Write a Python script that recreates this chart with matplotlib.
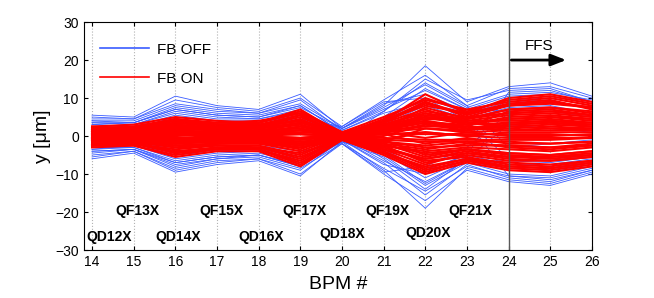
import matplotlib
matplotlib.use("Agg")
import matplotlib.pyplot as plt

plt.rcParams["font.family"] = ["Liberation Sans", "DejaVu Sans"]

# BPM index along the line
bpm = [14, 15, 16, 17, 18, 19, 20, 21, 22, 23, 24, 25, 26]

# orbit readings (um) with feedback off, one list per shot
fb_off = [
    [5.5, 5.0, 10.5, 8.0, 7.0, 11.0, 2.0, 8.0, 18.5, 9.0, 13.0, 14.0, 10.5],
    [5.0, 4.5, 9.5, 7.5, 6.5, 10.0, 2.5, 9.5, 16.0, 8.0, 12.5, 13.0, 10.0],
    [4.5, 4.5, 8.5, 7.0, 6.0, 9.5, 1.5, 6.5, 15.0, 9.5, 12.0, 12.5, 9.0],
    [4.0, 4.0, 8.0, 6.5, 6.0, 8.5, 2.0, 7.5, 13.5, 7.5, 11.0, 11.5, 9.5],
    [3.5, 3.5, 7.5, 6.0, 5.5, 8.0, 1.0, 5.0, 12.5, 7.0, 10.5, 11.0, 8.5],
    [3.0, 3.5, 7.0, 5.5, 5.0, 7.5, 2.0, 8.5, 11.0, 6.5, 9.5, 10.0, 8.0],
    [3.5, 3.0, 6.5, 5.0, 4.5, 7.0, 0.5, 4.0, 10.0, 6.0, 9.0, 9.5, 7.0],
    [2.5, 3.0, 6.0, 4.5, 4.5, 6.5, 1.5, 6.0, 9.0, 5.5, 8.0, 8.5, 7.5],
    [3.0, 2.5, 5.5, 4.0, 4.0, 6.0, 1.0, 3.0, 8.0, 4.5, 7.5, 8.0, 6.0],
    [2.0, 2.0, 5.0, 4.0, 3.5, 5.5, 2.0, 7.0, 12.0, 7.0, 6.5, 7.0, 5.5],
    [4.0, 3.5, 7.0, 5.5, 5.0, 8.0, 1.0, -6.0, -14.0, -6.0, 3.0, 2.0, 1.0],
    [-4.0, -3.5, -7.0, -5.5, -5.0, -8.0, -1.0, 6.5, 14.0, 8.0, -3.0, -2.0, -1.0],
    [2.5, 2.0, 4.5, 3.5, 3.0, 5.0, -0.5, -4.0, -9.0, -5.0, 11.5, 12.0, 9.0],
    [-2.5, -2.0, -4.5, -3.5, -3.0, -5.0, 0.5, 3.0, 6.0, 4.0, -10.5, -11.5, -9.0],
    [-6.0, -4.5, -9.5, -7.5, -6.5, -10.5, -1.5, -9.0, -19.0, -8.5, -11.5, -12.5, -9.5],
    [-5.5, -4.0, -9.0, -7.0, -6.0, -10.0, -2.0, -10.0, -17.0, -9.0, -12.0, -13.0, -10.0],
    [-5.0, -4.0, -8.5, -6.5, -6.0, -9.0, -1.0, -7.0, -15.5, -7.5, -11.0, -12.0, -9.0],
    [-4.5, -3.5, -8.0, -6.0, -5.5, -8.5, -2.0, -8.5, -14.5, -8.0, -10.5, -11.0, -8.5],
    [-4.0, -3.5, -7.5, -6.0, -5.0, -8.0, -1.5, -5.5, -13.0, -7.0, -10.0, -10.5, -8.0],
    [-3.5, -3.0, -7.0, -5.5, -5.0, -7.5, -0.5, -6.5, -12.0, -6.5, -9.0, -9.5, -7.5],
    [-3.0, -3.0, -6.5, -5.0, -4.5, -7.0, -1.5, -4.5, -11.0, -6.0, -8.5, -9.0, -7.0],
    [-3.5, -2.5, -6.0, -4.5, -4.0, -6.5, -1.0, -7.5, -10.0, -5.5, -8.0, -8.5, -6.5],
    [-2.5, -2.5, -5.5, -4.0, -4.0, -6.0, 0.0, -3.5, -9.0, -5.0, -7.5, -7.5, -6.0],
    [-2.0, -2.0, -5.0, -4.0, -3.5, -5.5, -1.0, -5.0, -12.5, -6.5, -6.5, -7.0, -5.5],
    [1.5, 1.5, 4.0, 3.0, 3.0, 4.5, 2.5, 9.0, 10.0, 4.0, -6.0, -6.5, -5.0],
    [-1.5, -1.5, -3.5, -2.5, -2.5, -4.0, -2.0, -9.5, -8.0, -3.0, 6.0, 6.5, 5.0],
]

# orbit readings (um) with feedback on
fb_on = [
    [2.5, 3.0, 5.0, 4.0, 3.5, 7.0, 0.5, 4.0, 11.0, 6.0, 10.0, 11.0, 9.0],
    [2.0, 2.5, 4.5, 3.5, 4.0, 6.0, 1.0, 5.0, 9.5, 7.0, 9.0, 10.0, 8.0],
    [1.5, 2.0, 4.0, 3.0, 3.0, 5.5, 0.0, 3.5, 9.0, 5.0, 8.0, 8.5, 7.5],
    [2.0, 1.5, 3.5, 3.0, 2.5, 5.0, 0.5, 2.0, 7.5, 4.5, 7.0, 7.5, 6.0],
    [1.0, 1.5, 3.0, 2.0, 2.5, 4.0, -0.5, 3.0, 6.5, 5.0, 6.0, 6.5, 5.5],
    [1.5, 1.0, 2.5, 2.5, 2.0, 3.5, 0.5, 1.0, 6.0, 3.0, 5.0, 5.5, 4.5],
    [0.5, 1.0, 2.0, 1.5, 1.0, 2.5, 0.0, 2.5, 4.5, 4.0, 4.0, 4.5, 3.5],
    [1.0, 0.5, 1.5, 1.0, 1.5, 2.0, -0.5, 0.0, 3.0, 1.5, 3.0, 3.5, 3.0],
    [0.0, 0.5, 1.0, 1.0, 0.5, 1.0, 0.5, 1.5, 2.5, 2.5, 2.0, 2.5, 2.0],
    [0.5, 0.0, 0.5, 0.0, 0.5, 0.5, 0.0, -1.0, 1.0, 0.0, 1.0, 1.0, 1.0],
    [-0.5, 0.0, 0.0, 0.5, 0.0, -0.5, 0.0, 1.0, -0.5, 1.0, 0.0, 0.0, 0.5],
    [0.0, -0.5, -0.5, -0.5, -0.5, -1.0, 0.0, -0.5, -1.0, -1.0, -1.0, -1.0, -0.5],
    [-1.0, -0.5, -1.0, -1.0, -0.5, -1.5, -0.5, 0.5, -2.0, -0.5, -2.0, -2.0, -1.5],
    [-0.5, -1.0, -1.5, -1.0, -1.5, -2.5, 0.0, -1.5, -3.0, -2.5, -2.5, -3.0, -2.5],
    [-1.5, -1.0, -2.0, -1.5, -1.5, -3.0, -0.5, -2.5, -4.0, -3.0, -3.5, -4.0, -3.0],
    [-1.0, -1.5, -3.0, -2.0, -2.0, -4.0, 0.0, -1.0, -5.0, -3.5, -4.5, -5.0, -4.0],
    [-2.0, -1.5, -3.0, -2.5, -2.5, -5.0, -0.5, -3.5, -6.0, -4.5, -5.5, -5.5, -5.0],
    [-2.0, -2.0, -4.0, -3.0, -3.0, -5.5, -1.0, -2.5, -7.0, -5.0, -6.5, -6.5, -5.5],
    [-2.5, -2.0, -4.5, -3.0, -3.5, -6.5, -0.5, -4.5, -8.0, -6.0, -7.0, -7.5, -6.5],
    [-2.5, -2.5, -5.0, -3.5, -3.5, -7.0, -1.0, -4.0, -9.0, -6.5, -8.0, -8.5, -7.0],
    [-3.0, -2.5, -5.5, -4.0, -4.0, -8.0, -1.0, -5.0, -10.0, -7.0, -9.0, -9.5, -8.0],
    [1.5, 1.0, 3.0, 2.0, 2.0, 4.5, 0.0, -3.0, -6.0, -4.0, -5.5, -6.0, -5.0],
    [-1.5, -1.0, -2.5, -2.0, -1.5, -3.5, 0.5, 4.0, 8.0, 6.0, 8.0, 9.0, 7.5],
    [0.5, 1.0, 2.5, 1.5, 1.5, 3.0, 0.0, 3.5, 7.0, 3.5, 4.5, 5.0, 4.5],
    [-0.5, -1.0, -2.0, -1.0, -1.0, -2.0, 0.5, -3.5, -7.5, -4.5, -6.0, -6.5, -5.5],
    [2.0, 2.5, 4.0, 3.5, 3.5, 6.5, 1.0, 2.0, 4.0, 2.0, 3.0, 3.5, 2.5],
    [-2.5, -2.0, -4.0, -3.5, -3.0, -6.0, -0.5, -1.5, 2.0, 1.5, 2.5, 2.0, 2.0],
    [1.0, 2.0, 3.5, 2.5, 3.0, 4.0, 0.5, 1.5, 5.0, 3.0, 4.5, 5.0, 4.0],
    [-1.0, -2.0, -3.5, -2.5, -3.0, -4.5, -0.5, -2.0, -5.5, -3.5, -4.5, -5.0, -4.0],
    [0.0, 0.5, 1.5, 0.5, 1.0, 1.5, -0.5, 2.0, 3.5, 3.0, 3.5, 4.0, 3.5],
    [0.5, -0.5, -1.0, 0.0, -0.5, -0.5, 0.5, -2.0, -3.5, -2.0, -2.5, -3.0, -2.0],
    [2.0, 1.0, 3.5, 2.5, 2.5, 5.5, 0.5, 4.5, 10.0, 6.5, 9.5, 10.5, 8.5],
    [-2.5, -1.5, -4.5, -3.5, -3.5, -7.5, -1.0, -4.5, -9.5, -6.5, -8.5, -9.0, -7.5],
    [1.0, 1.5, 2.0, 1.5, 2.0, 3.0, 0.0, 2.5, 5.5, 4.0, 5.5, 6.0, 5.0],
    [-1.0, -0.5, -1.5, -1.5, -1.0, -2.0, 0.0, -2.5, -4.5, -3.5, -5.0, -5.5, -4.5],
    [0.5, 0.5, 1.0, 0.5, 1.0, 1.5, 0.5, 3.0, 6.0, 4.5, 7.0, 7.5, 6.5],
    [-0.5, -0.5, -1.0, -0.5, -1.0, -1.5, -0.5, -3.0, -6.5, -5.5, -7.5, -8.0, -6.5],
    [1.5, 2.0, 3.0, 2.0, 2.5, 4.0, 1.0, 1.0, 2.0, 1.0, 1.5, 1.5, 1.5],
    [-1.5, -1.5, -2.5, -2.0, -2.0, -3.0, -1.0, -1.0, -1.5, -1.5, -1.5, -2.0, -1.5],
    [0.0, 0.0, 0.5, 0.5, 0.0, 0.5, 0.0, 4.0, 9.0, 5.5, 8.5, 9.5, 7.0],
    [0.0, 0.0, -0.5, -0.5, 0.0, -0.5, 0.0, -4.0, -8.5, -6.0, -8.0, -8.5, -7.0],
    [1.0, 0.5, 2.0, 1.5, 1.0, 2.5, 0.5, 0.5, 0.5, 0.5, 0.5, 0.5, 0.0],
    [-1.0, -0.5, -2.0, -1.5, -1.0, -2.5, -0.5, 1.5, 3.5, 2.0, 3.5, 4.0, 3.0],
    [0.5, 0.0, 1.0, 1.0, 0.5, 1.5, 0.0, -1.5, -2.5, -1.5, -3.0, -3.5, -2.5],
    [-0.5, 0.0, -0.5, 0.0, -0.5, -1.0, 0.0, 2.5, 4.0, 2.5, 6.5, 7.0, 5.5],
    [0.5, 1.0, 1.5, 1.0, 1.5, 2.0, 0.0, 1.0, 3.0, 2.0, 1.5, 2.0, 1.5],
    [1.5, 1.0, 2.5, 2.0, 2.0, 3.5, 0.5, 2.0, 5.0, 4.5, 6.0, 6.5, 5.5],
    [-0.5, -1.0, -1.5, -1.0, -1.0, -2.0, 0.0, 0.5, 1.0, 0.0, -0.5, -0.5, -0.5],
    [2.5, 2.0, 4.5, 3.0, 3.5, 6.0, 1.0, 3.5, 8.5, 6.0, 8.5, 9.0, 7.5],
    [-0.5, 0.5, 0.5, 0.0, 0.5, 0.5, 0.0, 3.0, 5.0, 3.5, 2.5, 3.0, 2.5],
]

# magnet names and where they are written
magnets = ["QD12X", "QF13X", "QD14X", "QF15X", "QD16X",
           "QF17X", "QD18X", "QF19X", "QD20X", "QF21X"]
magnet_x = [14.42, 15.1, 16.07, 17.1, 18.07, 19.09, 20.01, 21.08, 22.08, 23.08]
magnet_y = [-26.5, -19.7, -26.5, -19.7, -26.5, -19.7, -25.8, -19.7, -25.4, -19.7]

fig = plt.figure(figsize=(6.54, 2.98), dpi=100)
ax = fig.add_axes([0.128, 0.161, 0.777, 0.765])

for i, y in enumerate(fb_off):
    ax.plot(bpm, y, color="#3a5cff", lw=0.6, label="FB OFF" if i == 0 else None)
for i, y in enumerate(fb_on):
    ax.plot(bpm, y, color="#ff0000", lw=1.5, label="FB ON" if i == 0 else None)

for name, mx, my in zip(magnets, magnet_x, magnet_y):
    ax.text(mx, my, name, fontsize=10, fontweight="bold", ha="center", va="center")

# start of the final focus section
ax.axvline(24, color="0.35", lw=1)
ax.annotate("", xy=(25.45, 20), xytext=(24.0, 20),
            arrowprops=dict(arrowstyle="-|>,head_length=0.9,head_width=0.35",
                            color="black", lw=2))
ax.text(24.73, 23.7, "FFS", fontsize=11, ha="center", va="center")

ax.set_xlim(13.8, 26)
ax.set_ylim(-30, 30)
ax.set_xticks(bpm)
ax.set_yticks([-30, -20, -10, 0, 10, 20, 30])
ax.xaxis.grid(True, linestyle=":", color="0.7", lw=0.8)
ax.tick_params(direction="in", top=True, right=True, labelsize=10, length=3)
ax.set_xlabel("BPM #", fontsize=14, labelpad=5)
ax.set_ylabel("y [\u03bcm]", fontsize=14, labelpad=3)

leg = ax.legend(loc="upper left", frameon=False, fontsize=11, handlelength=3.2,
                handletextpad=0.5, labelspacing=1.0, borderpad=0, borderaxespad=0,
                bbox_to_anchor=(0.033, 0.91))
for line in leg.get_lines():
    line.set_linewidth(1.2)

fig.savefig("out.png", dpi=100)
